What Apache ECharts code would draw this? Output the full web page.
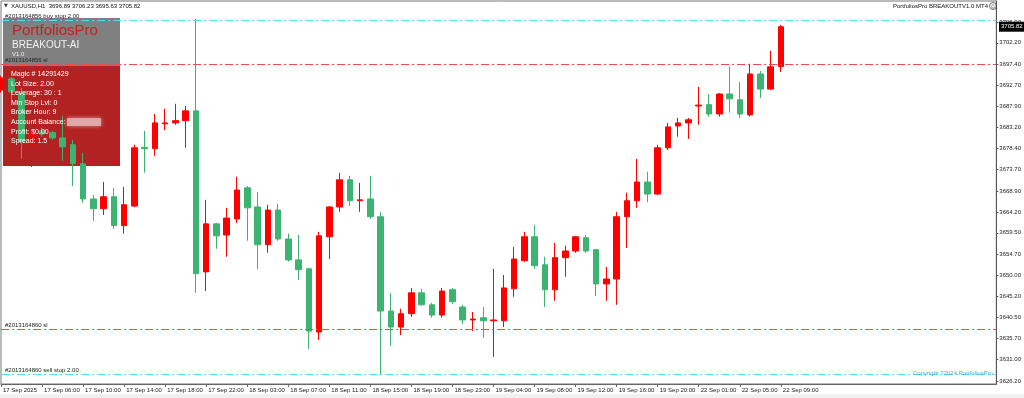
<!DOCTYPE html>
<html>
<head>
<meta charset="utf-8">
<title>XAUUSD H1</title>
<script src="https://cdn.jsdelivr.net/npm/echarts@6/dist/echarts.min.js"></script>
<style>
  html, body { margin: 0; padding: 0; background: #ffffff; }
  #main { width: 1024px; height: 398px; }
</style>
</head>
<body>
<div id="main"></div>
<script>
// XAUUSD H1 bars, 17 Sep 02:00 .. 22 Sep 09:00
var opens = [
  3691.6, 3694.1, 3690.9, 3679.3, 3682.4, 3682.0, 3680.8, 3679.3, 3675.0, 3667.1,
  3664.9, 3667.6, 3661.1, 3665.5, 3678.7, 3678.4, 3684.0, 3684.2, 3684.7, 3686.9,
  3650.7, 3661.5, 3659.0, 3662.6, 3669.6, 3665.3, 3656.8, 3664.6, 3658.1, 3653.4,
  3651.4, 3637.2, 3658.6, 3665.3, 3671.4, 3666.7, 3667.1, 3663.1, 3641.9, 3638.3,
  3641.3, 3646.0, 3643.3, 3641.0, 3646.7, 3642.8, 3639.9, 3640.4, 3639.7, 3639.7,
  3646.9, 3653.2, 3658.6, 3652.3, 3646.7, 3653.9, 3655.4, 3658.4, 3655.7, 3648.0,
  3649.1, 3663.1, 3666.7, 3670.9, 3668.2, 3678.6, 3683.5, 3684.2, 3688.0, 3688.3,
  3686.2, 3690.7, 3689.4, 3686.0, 3695.2, 3691.8, 3696.89
];
var closes = [
  3694.3, 3691.2, 3679.9, 3682.2, 3681.7, 3680.8, 3678.8, 3675.0, 3667.1, 3664.9,
  3667.6, 3661.1, 3665.8, 3678.6, 3678.4, 3684.2, 3684.2, 3684.7, 3686.9, 3650.3,
  3661.5, 3658.8, 3662.8, 3669.1, 3665.1, 3656.8, 3664.6, 3658.1, 3653.4, 3651.2,
  3637.4, 3658.8, 3665.3, 3671.4, 3666.7, 3666.9, 3663.1, 3641.9, 3638.3, 3641.3,
  3646.0, 3643.3, 3641.0, 3646.4, 3644.0, 3639.9, 3640.1, 3639.7, 3639.9, 3647.1,
  3653.6, 3658.6, 3652.1, 3646.7, 3653.9, 3655.4, 3658.6, 3655.4, 3648.0, 3649.1,
  3663.1, 3666.7, 3670.9, 3668.2, 3678.6, 3683.3, 3684.2, 3684.9, 3688.2, 3686.2,
  3690.7, 3689.6, 3686.2, 3695.2, 3691.8, 3696.8, 3705.82
];
var lows = [
  3691.0, 3689.4, 3676.1, 3674.3, 3681.1, 3680.4, 3675.7, 3670.0, 3666.2, 3662.2,
  3663.5, 3660.4, 3659.3, 3665.3, 3673.0, 3676.8, 3682.6, 3683.8, 3678.6, 3646.0,
  3646.4, 3655.9, 3654.1, 3661.7, 3657.7, 3651.4, 3655.0, 3657.7, 3653.0, 3648.9,
  3633.4, 3635.4, 3653.6, 3664.2, 3665.5, 3664.2, 3662.6, 3627.5, 3634.1, 3636.5,
  3640.6, 3643.1, 3640.4, 3640.4, 3643.5, 3639.0, 3637.4, 3635.9, 3631.6, 3638.3,
  3645.1, 3653.0, 3651.4, 3642.8, 3644.2, 3649.6, 3655.0, 3655.0, 3645.3, 3644.2,
  3643.3, 3656.1, 3665.1, 3666.4, 3668.0, 3678.1, 3681.1, 3680.6, 3683.8, 3685.6,
  3685.6, 3686.5, 3685.3, 3685.6, 3689.8, 3691.6, 3695.63
];
var highs = [
  3694.8, 3694.5, 3692.1, 3683.1, 3683.1, 3682.4, 3685.8, 3680.4, 3677.5, 3668.0,
  3670.9, 3669.6, 3669.8, 3679.3, 3682.4, 3686.2, 3687.4, 3688.5, 3688.0, 3707.6,
  3666.9, 3661.7, 3665.1, 3672.1, 3670.0, 3668.7, 3665.8, 3666.0, 3659.3, 3659.0,
  3651.6, 3659.7, 3665.5, 3673.0, 3672.3, 3670.7, 3672.3, 3664.2, 3646.0, 3642.4,
  3647.1, 3646.9, 3643.7, 3647.1, 3647.1, 3643.3, 3641.7, 3642.8, 3651.4, 3650.0,
  3656.3, 3659.7, 3661.3, 3654.1, 3657.2, 3656.6, 3658.8, 3659.0, 3655.9, 3651.8,
  3664.2, 3668.5, 3676.1, 3673.2, 3679.3, 3684.2, 3685.3, 3685.3, 3692.3, 3690.7,
  3690.9, 3696.8, 3693.4, 3697.5, 3695.9, 3700.4, 3706.23
];

// one label every 4 bars
var timeLabels = [
  '17 Sep 2025', '17 Sep 06:00', '17 Sep 10:00', '17 Sep 14:00', '17 Sep 18:00',
  '17 Sep 22:00', '18 Sep 03:00', '18 Sep 07:00', '18 Sep 11:00', '18 Sep 15:00',
  '18 Sep 19:00', '18 Sep 23:00', '19 Sep 04:00', '19 Sep 08:00', '19 Sep 12:00',
  '19 Sep 16:00', '19 Sep 20:00', '22 Sep 01:00', '22 Sep 05:00', '22 Sep 09:00'
];
var priceTicks = [
  3626.20, 3631.00, 3635.70, 3640.50, 3645.20, 3650.00, 3654.70, 3659.50, 3664.20,
  3668.90, 3673.70, 3678.40, 3683.20, 3687.90, 3692.70, 3697.40, 3702.20, 3706.90
];
var orderLines = [
  { name: '#2013164856 buy stop 2.00', price: 3707.35, color: '#45e6f2' },
  { name: '#2013164856 sl', price: 3697.46, color: '#f24a4a' },
  { name: '#2013164860 sl', price: 3637.8, color: '#f24a4a' },
  { name: '#2013164860 sell stop 2.00', price: 3627.7, color: '#45e6f2' }
];
var infoLines = [
  'Magic # 14291429', 'Lot Size: 2.00', 'Leverage: 30 : 1', 'Min Stop Lvl: 0',
  'Broker Hour: 9', 'Account Balance:', 'Profit: $0.00', 'Spread: 1.5'
];

var SLOTS = 98; // visible bar slots incl. chart shift on the right
var FONT = 'Liberation Sans, Arial, sans-serif';

var categories = [];
for (var i = 0; i < SLOTS; i++) {
  categories.push(i % 4 === 0 && timeLabels[i / 4] ? timeLabels[i / 4] : 'slot' + i);
}
var candles = opens.map(function (o, i) {
  return [o, closes[i], lows[i], highs[i]];
});
var showTick = function (idx) { return idx % 4 === 0 && idx / 4 < timeLabels.length; };

var chart = echarts.init(document.getElementById('main'), null, { renderer: 'canvas' });

var option = {
  backgroundColor: '#ffffff',
  animation: false,
  grid: {
    left: 1, right: 26, top: 1, bottom: 14,
    show: true, borderColor: '#777777', borderWidth: 1, backgroundColor: '#ffffff'
  },
  xAxis: {
    type: 'category',
    data: categories,
    boundaryGap: false,
    axisLine: { show: true, lineStyle: { color: '#666666' } },
    axisTick: { show: true, interval: showTick, length: 3, lineStyle: { color: '#666666' } },
    axisLabel: {
      interval: showTick,
      align: 'left',
      padding: [0, 0, 0, 2],
      margin: 3,
      fontSize: 6,
      fontFamily: FONT,
      color: '#222222',
      formatter: function (v) { return v.indexOf('Sep') >= 0 ? v : ''; }
    },
    splitLine: { show: false }
  },
  yAxis: {
    type: 'value',
    position: 'right',
    min: 3625.5,
    max: 3711.6,
    axisLine: { show: true, lineStyle: { color: '#555555' } },
    axisTick: { show: true, length: 2, customValues: priceTicks, lineStyle: { color: '#555555' } },
    axisLabel: {
      customValues: priceTicks,
      margin: 3,
      fontSize: 6,
      fontFamily: FONT,
      color: '#222222',
      formatter: function (v) { return v.toFixed(2); }
    },
    splitLine: { show: false }
  },
  series: [{
    type: 'candlestick',
    data: candles,
    barWidth: 6,
    z: 3,
    itemStyle: {
      color: '#ff0000',
      color0: '#3cb371',
      borderColor: '#ff0000',
      borderColor0: '#3cb371',
      borderWidth: 1
    },
    markLine: {
      silent: true,
      symbol: ['none', 'none'],
      animation: false,
      label: {
        show: true,
        position: 'insideStartTop',
        formatter: '{b}',
        fontSize: 6,
        fontFamily: FONT,
        color: '#222222',
        distance: [4, 1]
      },
      data: orderLines.map(function (l) {
        return {
          name: l.name,
          yAxis: l.price,
          lineStyle: { color: l.color, width: 1, type: [8, 3, 2, 3] }
        };
      })
    }
  }]
};
chart.setOption(option);

// overlay: EA panel, header texts, current price box
var last = candles.length - 1;
var priceY = chart.convertToPixel({ yAxisIndex: 0 }, closes[last]);
var graphics = [
  { type: 'rect', z: 1, shape: { x: 3, y: 18, width: 117, height: 48 }, style: { fill: '#808080' } },
  { type: 'rect', z: 1, shape: { x: 3, y: 66, width: 117, height: 100 }, style: { fill: '#b22222' } },
  { type: 'text', z: 10, style: { x: 12, y: 31, text: 'PortfoliosPro', fill: '#c81e1e', font: '15px ' + FONT, verticalAlign: 'middle' } },
  { type: 'text', z: 10, style: { x: 12, y: 45, text: 'BREAKOUT-AI', fill: '#f2f2f2', font: '10px ' + FONT, verticalAlign: 'middle' } },
  { type: 'text', z: 10, style: { x: 12, y: 54, text: 'V1.0', fill: '#eeeeee', font: '6px ' + FONT, verticalAlign: 'middle' } },
  { type: 'rect', z: 10, shape: { x: 67, y: 118, width: 34, height: 8 },
    style: { fill: 'rgba(226,176,176,0.85)', shadowBlur: 4, shadowColor: 'rgba(226,176,176,0.9)' } },
  { type: 'text', z: 10, style: { x: 4, y: 6, text: '▼', fill: '#333333', font: '5px DejaVu Sans', verticalAlign: 'middle' } },
  { type: 'text', z: 10, style: { x: 11, y: 6,
      text: 'XAUUSD,H1  ' + opens[last].toFixed(2) + ' ' + highs[last].toFixed(2) + ' ' + lows[last].toFixed(2) + ' ' + closes[last].toFixed(2),
      fill: '#111111', font: '6px ' + FONT, verticalAlign: 'middle' } },
  { type: 'text', z: 10, style: { x: 988, y: 6, text: 'PortfoliosPro BREAKOUTV1.0 MT4', fill: '#111111', font: '6px ' + FONT, align: 'right', verticalAlign: 'middle' } },
  { type: 'circle', z: 10, shape: { cx: 993, cy: 6, r: 3.5 }, style: { fill: 'none', stroke: '#444444', lineWidth: 0.8 } },
  { type: 'text', z: 10, style: { x: 993, y: 6.3, text: '☺', fill: '#444444', font: '5px DejaVu Sans', align: 'center', verticalAlign: 'middle' } },
  { type: 'text', z: 10, style: { x: 993, y: 373, text: 'Copyright ?2024 PortfoliosPro', fill: '#5aa8d6', font: '6px ' + FONT, align: 'right', verticalAlign: 'middle' } },
  { type: 'rect', z: 20, shape: { x: 999, y: priceY - 5, width: 25, height: 10 }, style: { fill: '#000000' } },
  { type: 'text', z: 21, style: { x: 1001, y: priceY, text: closes[last].toFixed(2), fill: '#ffffff', font: '6px ' + FONT, verticalAlign: 'middle' } },
  { type: 'rect', z: 0, shape: { x: 0, y: 394, width: 1024, height: 4 }, style: { fill: '#f0f0f0' } }
];
infoLines.forEach(function (t, k) {
  graphics.push({ type: 'text', z: 10, style: { x: 11, y: 74 + k * 9.6, text: t, fill: '#ffffff', font: '7px ' + FONT, verticalAlign: 'middle' } });
});
chart.setOption({ graphic: graphics });
</script>
</body>
</html>
